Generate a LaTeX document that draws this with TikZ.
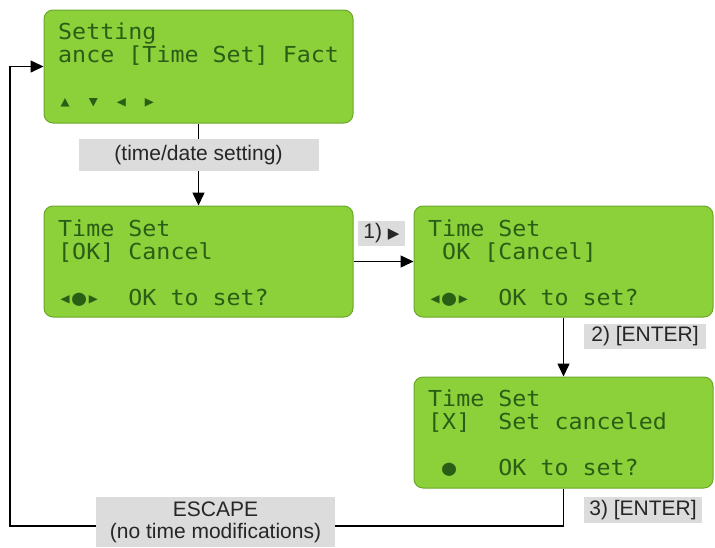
\documentclass[tikz,border=0pt]{standalone}
\usepackage{fontspec}
\setmainfont{Liberation Sans}
\newfontfamily\lcdfont[FakeStretch=1.06]{DejaVu Sans Mono}
\newfontfamily\symfont{DejaVu Sans}
\usepackage{xcolor}
\definecolor{lcdGreen}{HTML}{8CD03A}
\definecolor{lcdEdge}{HTML}{6AA82A}
\definecolor{lcdInk}{HTML}{2A5E16}
\definecolor{tagGray}{HTML}{DCDCDC}
\usetikzlibrary{arrows.meta}

\begin{document}
\begin{tikzpicture}[x=1pt, y=-1pt,
  lcd/.style={rectangle, rounded corners=9pt, draw=lcdEdge, line width=1pt, fill=lcdGreen, inner sep=0pt},
  lcdtext/.style={anchor=base west, inner sep=0pt, align=left, text=lcdInk, font=\lcdfont\fontsize{22}{23}\selectfont},
  tag/.style={fill=tagGray, inner sep=0pt, text=black!85, font=\fontsize{21}{22}\selectfont},
  wire/.style={line width=1.5pt},
  flow/.style={line width=1.5pt, -{Triangle[length=13pt, width=12pt]}}]
  \useasboundingbox (0,0) rectangle (715,547);
  % displays
  \node[lcd, minimum width=309pt, minimum height=113pt] (setMenu) at (198.5,66.5) {};
  \node[lcd, minimum width=309pt, minimum height=111pt] (timeSet) at (198.5,261.5) {};
  \node[lcd, minimum width=299pt, minimum height=111pt] (cancelSel) at (563.5,261.5) {};
  \node[lcd, minimum width=299pt, minimum height=111pt] (canceled) at (563.5,432.5) {};
  % text nodes sit on the baseline of their last row
  \node[lcdtext] (setMenuTxt) at (58,108) {Setting\\ance [Time Set] Fact\\~\\▴ ▾ ◂ ▸};
  \node[lcdtext] (timeSetTxt) at (58,305) {Time Set\\{[}OK{]} Cancel\\~\\◂●▸~~OK to set?};
  \node[lcdtext] (cancelSelTxt) at (428,305) {Time Set\\~OK [Cancel]\\~\\◂●▸~~OK to set?};
  \node[lcdtext] (canceledTxt) at (428,475) {Time Set\\{[}X{]}~~Set canceled\\~\\~●~~~OK to set?};
  % key labels
  \node[tag, minimum width=240pt, minimum height=32pt] (dateTag) at (198.5,155) {(time/date setting)};
  \node[tag, minimum width=47pt, minimum height=25pt] (rightTag) at (381.5,233.5) {1) {\symfont\fontsize{15}{15}\selectfont ▶}};
  \node[tag, minimum width=122pt, minimum height=25pt] (enterTagA) at (645,336) {2) [ENTER]};
  \node[tag, minimum width=118pt, minimum height=26pt] (enterTagB) at (643,510) {3) [ENTER]};
  % connectors
  \draw[wire] (setMenu.south) -- (dateTag.north);
  \draw[flow] (dateTag.south) -- (timeSet.north);
  \draw[flow] (timeSet.east) -- (cancelSel.west);
  \draw[flow] (cancelSel.south) -- (canceled.north);
  \coordinate (escCorner) at (10,526);
  \draw[flow] (canceled.south) |- (escCorner) |- (setMenu.west);
  \node[tag, minimum width=239pt, minimum height=50pt, align=center] (escTag) at (215.5,522) {ESCAPE\\(no time modifications)};
\end{tikzpicture}
\end{document}
